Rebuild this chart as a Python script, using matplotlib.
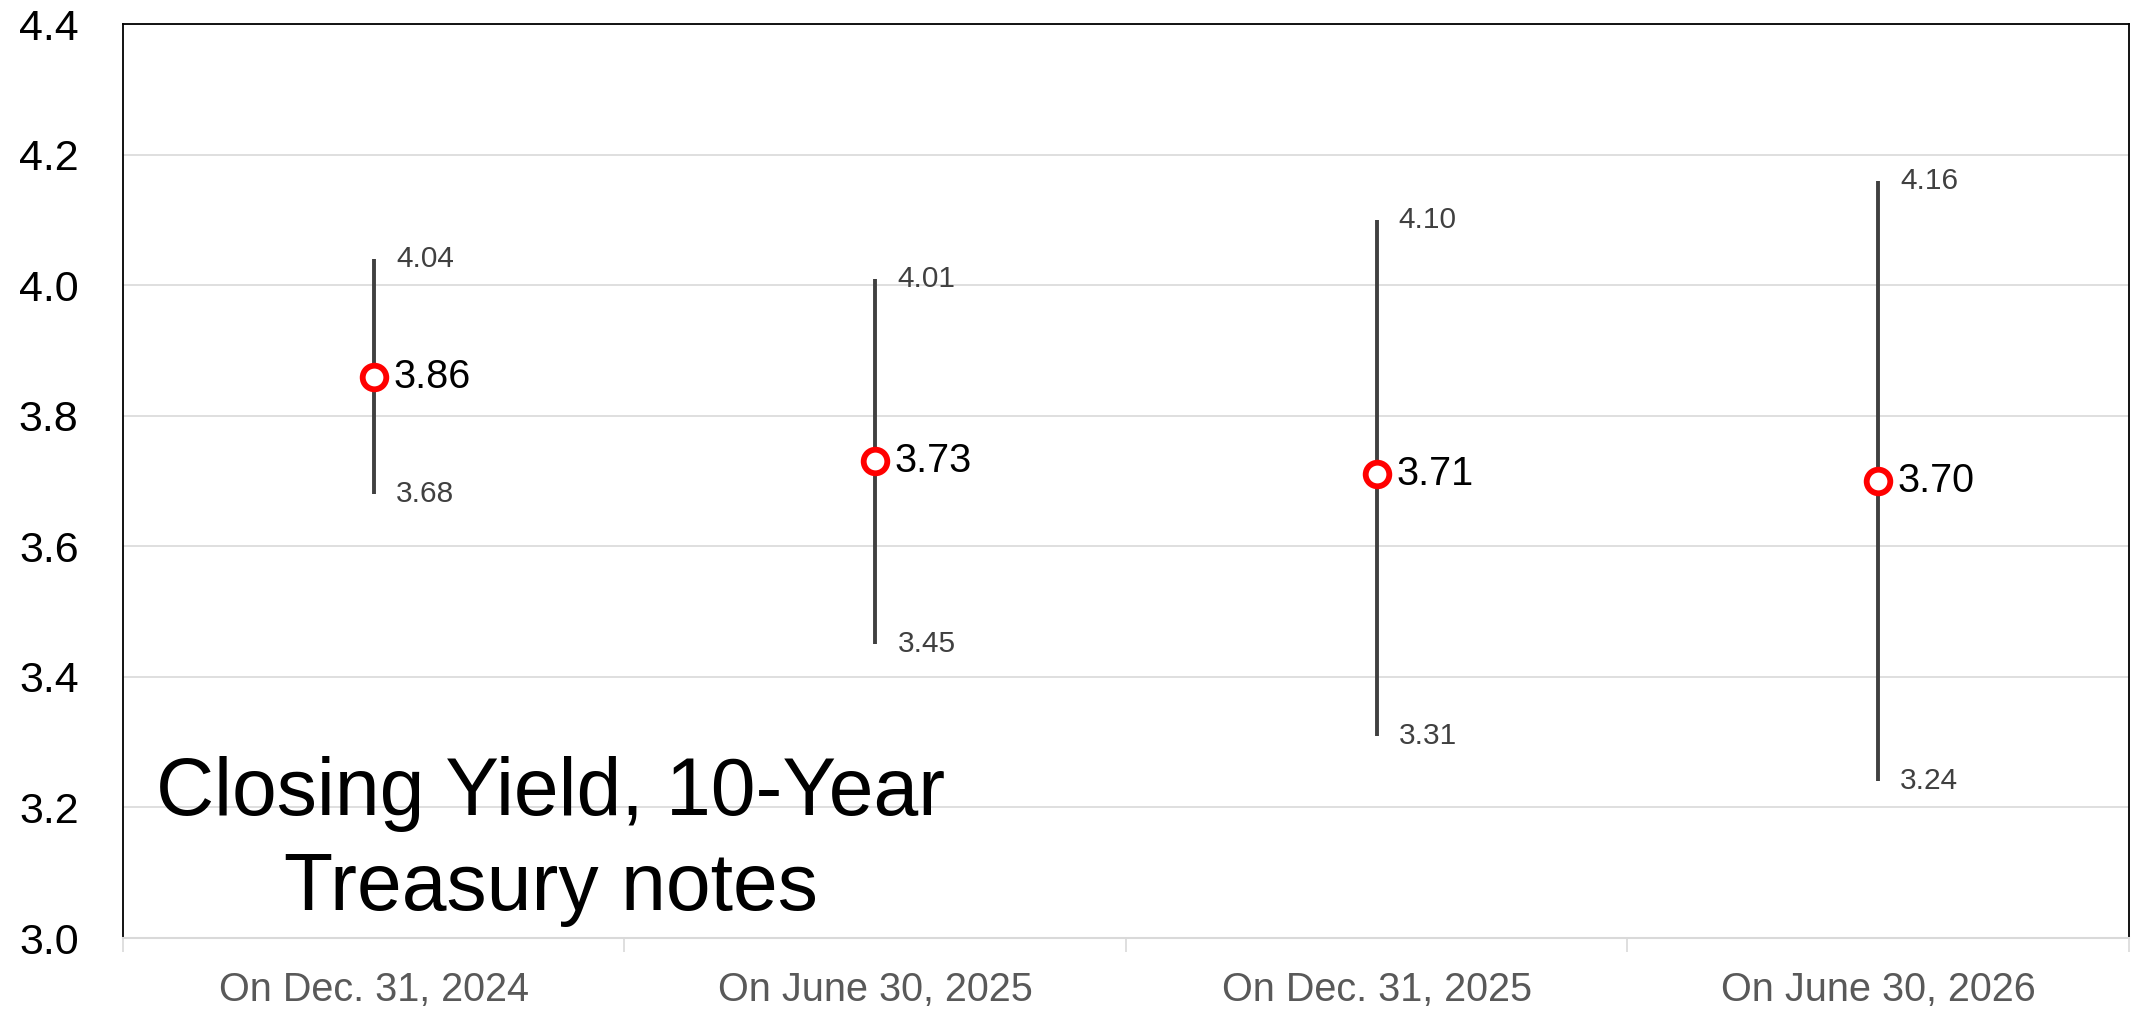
import matplotlib.pyplot as plt
import numpy as np

# forecast of 10-year Treasury closing yield
dates = ["On Dec. 31, 2024", "On June 30, 2025", "On Dec. 31, 2025", "On June 30, 2026"]
mid = [3.86, 3.73, 3.71, 3.70]
high = [4.04, 4.01, 4.10, 4.16]
low = [3.68, 3.45, 3.31, 3.24]
title_lines = ["Closing Yield, 10-Year", "Treasury notes"]

plt.rcParams["font.family"] = ["Liberation Sans", "DejaVu Sans"]

fig = plt.figure(figsize=(21.36, 10.13), dpi=100)
ax = fig.add_axes([0.0576, 0.074, 0.939, 0.9023])

x = np.arange(len(dates))
ax.vlines(x, low, high, color="#404040", linewidth=2.8, zorder=2)
ax.plot(x, mid, linestyle="none", marker="o", markersize=17, markerfacecolor="white",
        markeredgecolor="red", markeredgewidth=4.2, zorder=3)

for i in range(len(dates)):
    ax.annotate(f"{mid[i]:.2f}", (x[i], mid[i]), xytext=(14, 0), textcoords="offset points",
                va="center", ha="left", fontsize=28.5, color="black")
    ax.annotate(f"{high[i]:.2f}", (x[i], high[i]), xytext=(16, 0), textcoords="offset points",
                va="center", ha="left", fontsize=21.5, color="#404040")
    ax.annotate(f"{low[i]:.2f}", (x[i], low[i]), xytext=(16, 0), textcoords="offset points",
                va="center", ha="left", fontsize=21.5, color="#404040")

ax.set_xlim(-0.5, len(dates) - 0.5)
ax.set_ylim(3.0, 4.4)
yt = np.arange(3.0, 4.41, 0.2)
ax.set_yticks(yt)
ax.set_yticklabels([f"{v:.1f}" for v in yt], fontsize=31)
ax.tick_params(axis="y", length=0, pad=32)
ax.grid(axis="y", color="#d9d9d9", linewidth=1.2)
ax.set_axisbelow(True)

ax.set_xticks(x)
ax.set_xticklabels(dates, fontsize=28.5, color="#595959")
ax.set_xticks(np.arange(-0.5, len(dates), 1.0), minor=True)
ax.tick_params(axis="x", which="major", length=0, pad=24)
ax.tick_params(axis="x", which="minor", length=10, color="#d9d9d9", width=1.2)

for s in ["top", "left", "right"]:
    ax.spines[s].set_color("black")
    ax.spines[s].set_linewidth(1.3)
ax.spines["bottom"].set_color("#d9d9d9")
ax.spines["bottom"].set_linewidth(1.5)

# chart title sits inside the plot, lower left
ax.text(0.353, 3.189, title_lines[0], ha="center", va="baseline", fontsize=58, color="black")
ax.text(0.353, 3.043, title_lines[1], ha="center", va="baseline", fontsize=58, color="black")

fig.savefig("out.png", dpi=100)
